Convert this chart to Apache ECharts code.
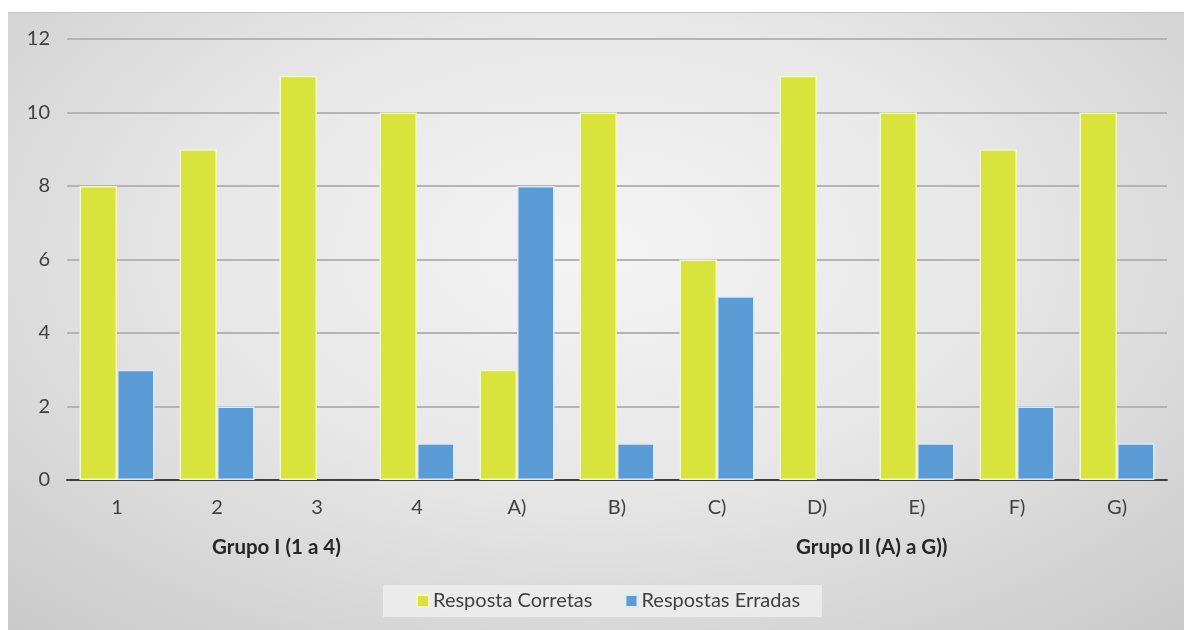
<!DOCTYPE html>
<html>
<head>
<meta charset="utf-8">
<script src="https://cdn.jsdelivr.net/npm/echarts@6/dist/echarts.min.js"></script>
<style>
  html, body { margin: 0; padding: 0; background: #ffffff; }
  #wrap { position: relative; width: 1184px; height: 630px; overflow: hidden; }
  #bg {
    position: absolute; left: 8px; top: 12px; width: 1176px; height: 618px;
    border-top: 1px solid #c2c2c2;
    background: radial-gradient(ellipse 75% 85% at 50% 38%, #f4f4f4 0%, #e7e7e7 45%, #c9c9c9 100%);
  }
  #chart { position: absolute; left: 0; top: 0; width: 1184px; height: 630px; }
</style>
</head>
<body>
<div id="wrap">
  <div id="bg"></div>
  <div id="chart"></div>
</div>
<script>
// Questions answered per item, split into two groups
const categories = ['1', '2', '3', '4', 'A)', 'B)', 'C)', 'D)', 'E)', 'F)', 'G)'];
const corretas = [8, 9, 11, 10, 3, 10, 6, 11, 10, 9, 10];
const erradas = [3, 2, 0, 1, 8, 1, 5, 0, 1, 2, 1];
const seriesNames = ['Resposta Corretas', 'Respostas Erradas'];
const groupLabels = ['Grupo I (1 a 4)', 'Grupo II (A) a G))'];

const FONT = 'Lato, "Open Sans", sans-serif';
const chart = echarts.init(document.getElementById('chart'), null, { renderer: 'canvas' });

// empty bars get no outline so a zero leaves no trace on the axis
const toBarData = (arr) => arr.map(v => v === 0 ? { value: v, itemStyle: { borderWidth: 0 } } : v);

chart.setOption({
  backgroundColor: 'transparent',
  animation: false,
  textStyle: { fontFamily: FONT },
  grid: { left: 67, right: 17, top: 39, bottom: 150 },
  xAxis: {
    type: 'category',
    data: categories,
    axisLine: { lineStyle: { color: '#404040', width: 2 } },
    axisTick: { show: false },
    axisLabel: { color: '#404040', fontSize: 20, margin: 18, fontFamily: FONT }
  },
  yAxis: {
    type: 'value',
    min: 0, max: 12, interval: 2,
    axisLine: { show: false },
    axisTick: { show: false },
    axisLabel: { color: '#404040', fontSize: 20, margin: 17, fontFamily: FONT },
    splitLine: { lineStyle: { color: '#b4b4b4', width: 2 } }
  },
  legend: {
    data: seriesNames,
    left: 383, top: 585,
    padding: [6, 22, 6, 33],
    backgroundColor: 'rgba(240,240,240,0.75)',
    itemWidth: 12, itemHeight: 12, itemGap: 32,
    icon: 'rect',
    textStyle: { color: '#404040', fontSize: 20, fontFamily: FONT, padding: [0, 0, 0, -1] }
  },
  graphic: [
    { type: 'text', left: 212, top: 537,
      style: { text: groupLabels[0], font: 'bold 20.5px ' + FONT, fill: '#262626' } },
    { type: 'text', left: 796, top: 537,
      style: { text: groupLabels[1], font: 'bold 20.5px ' + FONT, fill: '#262626' } }
  ],
  series: [
    {
      name: seriesNames[0], type: 'bar', data: toBarData(corretas),
      barGap: '0%', barCategoryGap: '25%',
      itemStyle: { color: '#d8e43c', borderColor: '#f4f8c4', borderWidth: 1.5 }
    },
    {
      name: seriesNames[1], type: 'bar', data: toBarData(erradas),
      barGap: '0%', barCategoryGap: '25%',
      itemStyle: { color: '#5b9bd5', borderColor: '#dbe9f7', borderWidth: 1.5 }
    }
  ]
});
</script>
</body>
</html>
